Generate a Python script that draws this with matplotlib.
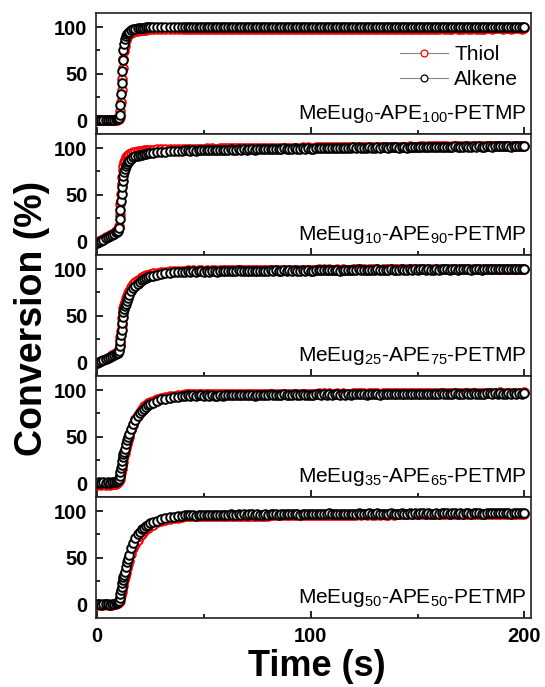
import matplotlib
matplotlib.use("Agg")
import matplotlib.pyplot as plt
from matplotlib.ticker import MultipleLocator

plt.rcParams['font.family'] = ['Liberation Sans', 'DejaVu Sans']
plt.rcParams['mathtext.fontset'] = 'custom'
plt.rcParams['mathtext.rm'] = 'Liberation Sans'
plt.rcParams['mathtext.it'] = 'Liberation Sans:italic'
plt.rcParams['mathtext.bf'] = 'Liberation Sans:bold'

#-----------------------------------------------------#
# data (time in s, conversion in %)

time_s = [0, 1, 2, 3, 4, 5, 6, 7, 8, 9,
          9.5, 10, 10.3, 10.6, 10.9, 11.2, 11.5, 11.8, 12.1, 12.4,
          12.7, 13, 13.5, 14, 14.5, 15, 16, 17, 18, 19,
          20, 21, 22, 23, 24, 25, 26, 28, 30, 32,
          34, 36, 38, 40,
          41.25, 42.5, 43.75, 45, 46.25, 47.5, 48.75, 50, 51.25, 52.5, 53.75, 55, 56.25, 57.5, 58.75, 60,
          61.25, 62.5, 63.75, 65, 66.25, 67.5, 68.75, 70, 71.25, 72.5, 73.75, 75, 76.25, 77.5, 78.75, 80,
          81.25, 82.5, 83.75, 85, 86.25, 87.5, 88.75, 90, 91.25, 92.5, 93.75, 95, 96.25, 97.5, 98.75, 100,
          101.25, 102.5, 103.75, 105, 106.25, 107.5, 108.75, 110, 111.25, 112.5, 113.75, 115, 116.25, 117.5, 118.75, 120,
          121.25, 122.5, 123.75, 125, 126.25, 127.5, 128.75, 130, 131.25, 132.5, 133.75, 135, 136.25, 137.5, 138.75, 140,
          141.25, 142.5, 143.75, 145, 146.25, 147.5, 148.75, 150, 151.25, 152.5, 153.75, 155, 156.25, 157.5, 158.75, 160,
          161.25, 162.5, 163.75, 165, 166.25, 167.5, 168.75, 170, 171.25, 172.5, 173.75, 175, 176.25, 177.5, 178.75, 180,
          181.25, 182.5, 183.75, 185, 186.25, 187.5, 188.75, 190, 191.25, 192.5, 193.75, 195, 196.25, 197.5, 198.75, 200]

panel_labels = [r'MeEug$_{0}$-APE$_{100}$-PETMP',
                r'MeEug$_{10}$-APE$_{90}$-PETMP',
                r'MeEug$_{25}$-APE$_{75}$-PETMP',
                r'MeEug$_{35}$-APE$_{65}$-PETMP',
                r'MeEug$_{50}$-APE$_{50}$-PETMP']

# MeEug0
thiol_0 = [0.0, -0.3, 0.1, -0.2, 0.2, -0.1, 0.0, -0.2, 0.1, 0.3,
           0.5, 1.0, 1.5, 3.5, 10.0, 20.0, 32.0, 44.0, 56.0, 66.0,
           74.0, 80.0, 86.0, 89.0, 91.0, 92.5, 94.0, 95.0, 95.7, 96.2,
           96.6, 96.9, 97.1, 97.3, 97.4, 97.5, 97.6, 97.7, 97.8, 97.8,
           97.9, 97.8, 97.9, 97.8,
           97.9, 98.1, 97.9, 98.0, 97.8, 98.1, 98.0, 97.9, 98.2, 97.9, 98.0, 98.0, 97.9, 98.1, 98.0, 98.1,
           98.0, 98.2, 98.1, 97.9, 98.2, 98.0, 98.1, 98.0, 98.1, 98.2, 97.9, 98.1, 98.1, 98.0, 98.2, 98.0,
           98.3, 98.1, 98.2, 98.0, 98.2, 98.3, 98.1, 98.2, 98.1, 98.3, 98.2, 98.0, 98.3, 98.1, 98.2, 98.1,
           98.1, 98.2, 98.3, 98.1, 98.3, 98.2, 98.4, 98.1, 98.2, 98.3, 98.1, 98.3, 98.2, 98.2, 98.1, 98.3,
           98.3, 98.4, 98.2, 98.3, 98.2, 98.4, 98.3, 98.2, 98.4, 98.2, 98.3, 98.3, 98.2, 98.4, 98.3, 98.3,
           98.2, 98.4, 98.3, 98.2, 98.4, 98.3, 98.4, 98.2, 98.3, 98.4, 98.2, 98.3, 98.3, 98.2, 98.4, 98.3,
           98.5, 98.3, 98.4, 98.3, 98.4, 98.5, 98.3, 98.4, 98.3, 98.5, 98.4, 98.3, 98.5, 98.4, 98.4, 98.3,
           98.4, 98.5, 98.6, 98.4, 98.5, 98.5, 98.6, 98.4, 98.5, 98.6, 98.4, 98.5, 98.5, 98.6, 98.4, 98.5]
alkene_0 = [0.5, 0.0, 0.4, 0.1, 0.5, 0.0, 0.3, 0.1, 0.5, 0.8,
            1.0, 1.5, 2.0, 6.0, 16.0, 28.0, 40.0, 53.0, 65.0, 75.0,
            82.0, 87.0, 90.5, 92.5, 94.0, 95.0, 96.5, 97.5, 98.0, 98.5,
            99.0, 99.1, 99.4, 99.5, 99.6, 99.8, 99.9, 100.0, 100.1, 99.9,
            100.0, 100.1, 99.9, 100.0,
            100.0, 100.4, 99.7, 100.2, 99.5, 100.3, 100.1, 99.8, 100.5, 99.6, 100.2, 100.0, 99.7, 100.4, 99.9, 100.2,
            99.8, 100.3, 100.0, 99.6, 100.5, 99.9, 100.2, 99.7, 100.1, 100.4, 99.5, 100.2, 100.0, 99.8, 100.3, 99.9,
            100.3, 99.9, 100.2, 99.6, 100.0, 100.5, 99.7, 100.1, 99.8, 100.3, 100.0, 99.5, 100.4, 99.9, 100.2, 99.7,
            99.6, 100.1, 100.3, 99.8, 100.2, 99.9, 100.5, 99.7, 100.0, 100.2, 99.6, 100.3, 99.9, 100.1, 99.8, 100.4,
            100.1, 100.3, 99.8, 100.2, 99.6, 100.4, 100.0, 99.7, 100.4, 99.7, 100.1, 100.0, 99.6, 100.3, 99.9, 100.3,
            99.9, 100.2, 100.1, 99.5, 100.4, 99.8, 100.3, 99.8, 100.0, 100.5, 99.6, 100.1, 100.1, 99.7, 100.2, 100.0,
            100.2, 99.8, 100.3, 99.7, 100.1, 100.4, 99.6, 100.2, 99.9, 100.2, 100.1, 99.6, 100.3, 100.0, 100.1, 99.8,
            99.7, 100.2, 100.2, 99.9, 100.3, 99.8, 100.4, 99.8, 100.1, 100.1, 99.7, 100.2, 100.0, 100.2, 99.9, 100.1]

# MeEug10
thiol_10 = [-1.0, 0.0, 1.0, 2.5, 4.0, 5.0, 6.5, 8.0, 9.0, 10.5,
            11.0, 12.0, 16.0, 28.0, 40.0, 51.0, 61.0, 69.0, 76.0, 81.0,
            85.0, 87.5, 90.0, 91.5, 92.5, 93.5, 94.5, 95.3, 96.0, 96.5,
            97.0, 97.3, 97.6, 97.8, 98.0, 98.2, 98.3, 98.5, 98.6, 98.7,
            98.8, 98.9, 99.0, 99.0,
            99.1, 99.3, 99.1, 99.3, 99.2, 99.4, 99.4, 99.3, 99.6, 99.4, 99.6, 99.5, 99.5, 99.8, 99.6, 99.8,
            99.6, 99.9, 99.7, 99.6, 100.0, 99.8, 99.9, 99.8, 100.0, 100.1, 99.8, 100.1, 100.0, 100.0, 100.2, 100.1,
            100.3, 100.1, 100.3, 100.1, 100.3, 100.6, 100.2, 100.4, 100.3, 100.6, 100.5, 100.3, 100.8, 100.5, 100.7, 100.5,
            100.5, 100.8, 100.9, 100.7, 100.9, 100.8, 101.1, 100.8, 100.9, 101.1, 100.9, 101.2, 101.0, 101.1, 101.0, 101.3,
            101.1, 101.3, 101.0, 101.2, 101.0, 101.4, 101.3, 101.2, 101.5, 101.2, 101.4, 101.4, 101.3, 101.6, 101.5, 101.6,
            101.3, 101.5, 101.5, 101.3, 101.7, 101.5, 101.6, 101.5, 101.7, 101.8, 101.5, 101.8, 101.7, 101.7, 101.9, 101.8,
            101.8, 101.7, 101.8, 101.6, 101.8, 102.1, 101.8, 102.0, 101.9, 102.1, 102.0, 101.8, 102.2, 102.0, 102.1, 102.0,
            101.8, 102.1, 102.2, 102.0, 102.2, 102.1, 102.4, 102.1, 102.2, 102.4, 102.2, 102.5, 102.3, 102.4, 102.3, 102.5]
alkene_10 = [-2.0, -1.0, 0.0, 1.5, 3.0, 4.0, 5.5, 7.0, 8.0, 9.5,
             10.0, 11.0, 14.0, 24.0, 34.0, 43.0, 51.0, 58.0, 65.0, 70.0,
             74.0, 77.0, 81.0, 83.0, 85.0, 86.5, 88.5, 90.0, 91.0, 92.0,
             92.5, 93.0, 93.5, 94.0, 94.5, 95.0, 95.2, 95.7, 96.0, 96.3,
             96.6, 96.8, 97.0, 97.2,
             97.4, 97.9, 97.3, 97.8, 97.3, 98.0, 97.8, 97.6, 98.3, 97.5, 98.1, 97.9, 97.7, 98.4, 98.0, 98.3,
             98.1, 98.6, 98.4, 98.0, 99.0, 98.4, 98.7, 98.3, 98.7, 99.0, 98.2, 98.9, 98.7, 98.6, 99.1, 98.8,
             99.3, 98.9, 99.2, 98.8, 99.2, 99.7, 99.0, 99.4, 99.2, 99.7, 99.4, 99.0, 99.9, 99.4, 99.7, 99.4,
             99.3, 99.9, 100.1, 99.6, 100.1, 99.8, 100.4, 99.8, 100.0, 100.3, 99.8, 100.5, 100.1, 100.3, 100.1, 100.7,
             100.3, 100.8, 100.1, 100.6, 100.0, 100.8, 100.6, 100.4, 101.1, 100.3, 100.9, 100.7, 100.5, 101.2, 100.8, 101.1,
             100.6, 101.1, 100.9, 100.5, 101.4, 100.9, 101.2, 100.8, 101.2, 101.5, 100.7, 101.4, 101.2, 101.1, 101.6, 101.3,
             101.5, 101.1, 101.4, 100.9, 101.4, 101.9, 101.2, 101.6, 101.3, 101.8, 101.5, 101.0, 101.9, 101.5, 101.8, 101.5,
             101.2, 101.8, 102.0, 101.5, 102.0, 101.7, 102.4, 101.7, 101.9, 102.2, 101.6, 102.3, 101.9, 102.1, 101.9, 102.4]

# MeEug25
thiol_25 = [-0.5, 0.5, 1.5, 2.5, 3.5, 5.0, 6.0, 7.5, 8.5, 9.5,
            10.0, 11.0, 14.0, 20.0, 27.0, 34.0, 40.0, 47.0, 53.0, 58.0,
            62.0, 65.0, 68.5, 71.5, 74.5, 77.0, 80.5, 83.5, 86.0, 88.0,
            89.8, 91.2, 92.4, 93.4, 94.2, 95.0, 95.5, 96.3, 97.0, 97.4,
            97.7, 97.9, 98.1, 98.2,
            98.5, 98.7, 98.5, 98.7, 98.4, 98.7, 98.6, 98.5, 98.8, 98.5, 98.7, 98.6, 98.5, 98.8, 98.6, 98.7,
            98.8, 99.0, 98.9, 98.7, 99.1, 98.9, 99.0, 98.8, 98.9, 99.1, 98.7, 99.0, 98.9, 98.8, 99.0, 98.9,
            99.3, 99.1, 99.3, 99.0, 99.2, 99.4, 99.1, 99.2, 99.1, 99.3, 99.2, 99.0, 99.4, 99.1, 99.3, 99.1,
            99.3, 99.5, 99.6, 99.4, 99.6, 99.5, 99.7, 99.4, 99.5, 99.6, 99.3, 99.6, 99.5, 99.5, 99.4, 99.7,
            99.7, 99.9, 99.6, 99.8, 99.5, 99.8, 99.7, 99.6, 99.9, 99.5, 99.8, 99.7, 99.6, 99.9, 99.7, 99.8,
            99.8, 100.0, 99.9, 99.7, 100.1, 99.9, 100.0, 99.8, 99.9, 100.1, 99.7, 100.0, 99.9, 99.8, 100.0, 99.9,
            100.2, 100.0, 100.2, 99.9, 100.1, 100.3, 100.0, 100.1, 100.0, 100.2, 100.1, 99.9, 100.3, 100.0, 100.2, 100.0,
            100.2, 100.3, 100.4, 100.2, 100.4, 100.3, 100.5, 100.2, 100.3, 100.4, 100.2, 100.4, 100.3, 100.3, 100.2, 100.5]
alkene_25 = [-1.0, 0.0, 1.0, 2.0, 3.0, 4.5, 5.5, 7.0, 8.0, 9.0,
             9.5, 10.0, 12.0, 17.0, 23.0, 29.0, 35.0, 42.0, 49.0, 54.0,
             57.0, 60.0, 63.0, 66.0, 69.0, 72.0, 76.0, 79.5, 82.0, 84.5,
             86.5, 88.0, 89.5, 90.5, 91.5, 92.5, 93.0, 94.0, 95.0, 95.5,
             96.0, 96.5, 96.8, 97.0,
             97.4, 97.9, 97.2, 97.7, 97.1, 97.9, 97.7, 97.4, 98.1, 97.2, 97.8, 97.6, 97.3, 98.0, 97.5, 97.8,
             97.9, 98.4, 98.1, 97.7, 98.6, 98.0, 98.3, 97.8, 98.2, 98.5, 97.6, 98.3, 98.1, 97.9, 98.4, 98.0,
             98.8, 98.4, 98.7, 98.1, 98.5, 99.0, 98.2, 98.6, 98.3, 98.8, 98.5, 98.0, 98.9, 98.4, 98.7, 98.2,
             98.5, 99.0, 99.2, 98.7, 99.1, 98.8, 99.4, 98.6, 98.9, 99.1, 98.5, 99.2, 98.8, 99.0, 98.7, 99.3,
             99.2, 99.6, 98.9, 99.4, 98.7, 99.5, 99.3, 99.0, 99.7, 98.8, 99.4, 99.2, 98.9, 99.6, 99.1, 99.4,
             99.3, 99.8, 99.5, 99.1, 100.0, 99.4, 99.7, 99.2, 99.6, 99.9, 99.0, 99.7, 99.5, 99.3, 99.8, 99.4,
             100.1, 99.7, 100.0, 99.4, 99.8, 100.3, 99.5, 99.9, 99.6, 100.1, 99.8, 99.3, 100.2, 99.7, 100.0, 99.5,
             99.6, 100.1, 100.3, 99.8, 100.2, 99.9, 100.5, 99.7, 100.0, 100.2, 99.6, 100.3, 99.9, 100.1, 99.8, 100.4]

# MeEug35
thiol_35 = [-1.5, -1.0, -1.5, -1.0, -1.5, -1.0, -1.5, -1.0, -1.0, -0.5,
            0.0, 1.0, 2.5, 4.5, 7.5, 11.0, 15.0, 19.0, 23.0, 27.0,
            30.0, 33.0, 38.0, 42.5, 46.5, 50.0, 57.0, 63.0, 68.5, 73.0,
            77.0, 80.0, 82.5, 84.5, 86.0, 87.5, 88.5, 90.5, 91.8, 92.8,
            93.5, 94.0, 94.5, 95.0,
            95.5, 95.7, 95.5, 95.7, 95.4, 95.7, 95.6, 95.5, 95.8, 95.5, 95.7, 95.6, 95.5, 95.8, 95.6, 95.7,
            95.8, 96.0, 95.9, 95.7, 96.1, 95.9, 96.0, 95.8, 95.9, 96.1, 95.7, 96.0, 95.9, 95.8, 96.0, 95.9,
            96.3, 96.1, 96.3, 96.0, 96.2, 96.4, 96.1, 96.2, 96.1, 96.3, 96.2, 96.0, 96.4, 96.1, 96.3, 96.1,
            96.2, 96.4, 96.5, 96.3, 96.5, 96.4, 96.6, 96.3, 96.4, 96.5, 96.2, 96.5, 96.4, 96.4, 96.3, 96.6,
            96.6, 96.8, 96.5, 96.7, 96.4, 96.7, 96.6, 96.5, 96.8, 96.4, 96.7, 96.6, 96.5, 96.8, 96.6, 96.7,
            96.7, 96.9, 96.8, 96.6, 97.0, 96.8, 96.9, 96.7, 96.8, 97.0, 96.6, 96.9, 96.8, 96.7, 96.9, 96.8,
            97.1, 96.9, 97.1, 96.8, 97.0, 97.2, 96.9, 97.0, 96.9, 97.1, 97.0, 96.8, 97.2, 96.9, 97.1, 96.9,
            97.2, 97.3, 97.4, 97.2, 97.4, 97.3, 97.5, 97.2, 97.3, 97.4, 97.2, 97.4, 97.3, 97.3, 97.2, 97.5]
alkene_35 = [0.5, 1.0, 0.5, 1.0, 0.5, 1.0, 0.5, 1.0, 1.0, 1.5,
             2.0, 3.0, 5.0, 8.0, 12.0, 16.0, 20.0, 24.0, 28.0, 31.0,
             34.0, 37.0, 42.0, 46.5, 50.0, 53.0, 58.5, 63.5, 68.0, 72.0,
             75.0, 78.0, 80.0, 82.0, 84.0, 85.5, 86.5, 88.5, 90.0, 91.0,
             92.0, 92.5, 93.0, 93.5,
             94.0, 94.5, 93.8, 94.3, 93.7, 94.5, 94.3, 94.0, 94.7, 93.8, 94.4, 94.2, 93.9, 94.6, 94.1, 94.4,
             94.5, 95.0, 94.7, 94.3, 95.2, 94.6, 94.9, 94.4, 94.8, 95.1, 94.2, 94.9, 94.7, 94.5, 95.0, 94.6,
             95.4, 95.0, 95.3, 94.7, 95.1, 95.6, 94.8, 95.2, 94.9, 95.4, 95.1, 94.6, 95.5, 95.0, 95.3, 94.8,
             95.0, 95.5, 95.7, 95.2, 95.6, 95.3, 95.9, 95.1, 95.4, 95.6, 95.0, 95.7, 95.3, 95.5, 95.2, 95.8,
             95.7, 96.1, 95.4, 95.9, 95.2, 96.0, 95.8, 95.5, 96.2, 95.3, 95.9, 95.7, 95.4, 96.1, 95.6, 95.9,
             95.7, 96.2, 95.9, 95.5, 96.4, 95.8, 96.1, 95.6, 96.0, 96.3, 95.4, 96.1, 95.9, 95.7, 96.2, 95.8,
             96.5, 96.1, 96.4, 95.8, 96.2, 96.7, 95.9, 96.3, 96.0, 96.5, 96.2, 95.7, 96.6, 96.1, 96.4, 95.9,
             96.0, 96.5, 96.7, 96.2, 96.6, 96.3, 96.9, 96.1, 96.4, 96.6, 96.0, 96.7, 96.3, 96.5, 96.2, 96.8]

# MeEug50
thiol_50 = [-0.5, 0.0, -1.0, -0.5, 0.0, -0.5, -1.0, -0.5, 0.0, 0.5,
            1.0, 1.5, 2.5, 4.0, 7.0, 10.0, 13.0, 17.0, 20.0, 23.0,
            26.0, 29.0, 34.0, 39.0, 43.0, 47.0, 54.0, 60.0, 65.0, 69.5,
            73.0, 76.0, 78.5, 80.5, 82.5, 84.0, 85.5, 88.0, 89.5, 90.8,
            91.8, 92.5, 93.0, 93.5,
            94.5, 94.7, 94.5, 94.7, 94.4, 94.7, 94.6, 94.5, 94.8, 94.5, 94.7, 94.6, 94.5, 94.8, 94.6, 94.7,
            95.1, 95.3, 95.2, 95.0, 95.4, 95.2, 95.3, 95.1, 95.2, 95.4, 95.0, 95.3, 95.2, 95.1, 95.3, 95.2,
            95.8, 95.6, 95.8, 95.5, 95.7, 95.9, 95.6, 95.7, 95.6, 95.8, 95.7, 95.5, 95.9, 95.6, 95.8, 95.6,
            95.9, 96.1, 96.2, 96.0, 96.2, 96.1, 96.3, 96.0, 96.1, 96.2, 95.9, 96.2, 96.1, 96.1, 96.0, 96.3,
            96.4, 96.6, 96.3, 96.5, 96.2, 96.5, 96.4, 96.3, 96.6, 96.2, 96.5, 96.4, 96.3, 96.6, 96.4, 96.5,
            96.6, 96.8, 96.7, 96.5, 96.9, 96.7, 96.8, 96.6, 96.7, 96.9, 96.5, 96.8, 96.7, 96.6, 96.8, 96.7,
            97.0, 96.8, 97.0, 96.7, 96.9, 97.1, 96.8, 96.9, 96.8, 97.0, 96.9, 96.7, 97.1, 96.8, 97.0, 96.8,
            97.0, 97.1, 97.2, 97.0, 97.2, 97.1, 97.3, 97.0, 97.1, 97.2, 97.0, 97.2, 97.1, 97.1, 97.0, 97.3]
alkene_50 = [0.0, 0.5, -0.5, 0.0, 0.5, 0.0, -0.5, 0.0, 0.5, 1.0,
             1.5, 2.5, 4.0, 7.0, 11.0, 15.0, 19.0, 23.0, 26.0, 29.0,
             32.0, 35.0, 40.0, 45.0, 49.0, 53.0, 60.0, 66.0, 71.0, 75.0,
             78.0, 80.5, 82.5, 84.0, 85.5, 87.0, 88.0, 90.0, 91.5, 92.5,
             93.5, 94.0, 94.5, 95.0,
             95.7, 96.2, 95.5, 96.0, 95.4, 96.2, 96.0, 95.7, 96.4, 95.5, 96.1, 95.9, 95.6, 96.3, 95.8, 96.1,
             96.2, 96.7, 96.4, 96.0, 96.9, 96.3, 96.6, 96.1, 96.5, 96.8, 95.9, 96.6, 96.4, 96.2, 96.7, 96.3,
             97.1, 96.7, 97.0, 96.4, 96.8, 97.3, 96.5, 96.9, 96.6, 97.1, 96.8, 96.3, 97.2, 96.7, 97.0, 96.5,
             96.7, 97.2, 97.4, 96.9, 97.3, 97.0, 97.6, 96.8, 97.1, 97.3, 96.7, 97.4, 97.0, 97.2, 96.9, 97.5,
             97.3, 97.7, 97.0, 97.5, 96.8, 97.6, 97.4, 97.1, 97.8, 96.9, 97.5, 97.3, 97.0, 97.7, 97.2, 97.5,
             97.3, 97.8, 97.5, 97.1, 98.0, 97.4, 97.7, 97.2, 97.6, 97.9, 97.0, 97.7, 97.5, 97.3, 97.8, 97.4,
             98.0, 97.6, 97.9, 97.3, 97.7, 98.2, 97.4, 97.8, 97.5, 98.0, 97.7, 97.2, 98.1, 97.6, 97.9, 97.4,
             97.5, 98.0, 98.2, 97.7, 98.1, 97.8, 98.4, 97.6, 97.9, 98.1, 97.5, 98.2, 97.8, 98.0, 97.7, 98.3]

thiol_series = [thiol_0, thiol_10, thiol_25, thiol_35, thiol_50]
alkene_series = [alkene_0, alkene_10, alkene_25, alkene_35, alkene_50]

#-----------------------------------------------------#

fig, axes = plt.subplots(5, 1, sharex=True, figsize=(5.45, 6.87), dpi=100)
fig.subplots_adjust(left=0.176, right=0.974, top=0.981, bottom=0.100, hspace=0)

for i, ax in enumerate(axes):
    ax.plot(time_s, thiol_series[i], '-o', color='#888888', lw=0.8,
            ms=6.2, mfc='white', mec='red', mew=1.4, label='Thiol')
    ax.plot(time_s, alkene_series[i], '-o', color='#888888', lw=0.8,
            ms=6.2, mfc='white', mec='black', mew=1.4, label='Alkene')
    ax.set_xlim(-0.5, 203)
    ax.set_ylim(-15, 115)
    ax.set_yticks([0, 50, 100])
    ax.yaxis.set_minor_locator(MultipleLocator(25))
    ax.xaxis.set_major_locator(MultipleLocator(100))
    ax.xaxis.set_minor_locator(MultipleLocator(50))
    ax.tick_params(which='both', direction='in', top=False, right=False,
                   width=1.2, labelsize=14.5, pad=6)
    ax.tick_params(which='major', length=5)
    ax.tick_params(which='minor', length=3)
    for lab in ax.get_yticklabels() + ax.get_xticklabels():
        lab.set_fontweight('bold')
    for sp in ax.spines.values():
        sp.set_linewidth(1.2)
        sp.set_color('#222222')
    ax.text(0.99, 0.165, panel_labels[i], transform=ax.transAxes,
            ha='right', va='center', fontsize=15)

leg = axes[0].legend(loc='upper right', bbox_to_anchor=(1.0, 0.84), frameon=False,
                     fontsize=15, handlelength=2.3, handletextpad=0.3,
                     labelspacing=0.3, markerscale=0.8, borderaxespad=0.2)
for h in leg.legend_handles:
    h.set_markeredgewidth(0.9)

fig.text(0.059, 0.537, 'Conversion (%)', rotation=90, ha='center', va='center',
         fontsize=27, fontweight='bold')
fig.text(0.582, 0.030, 'Time (s)', ha='center', va='center',
         fontsize=26, fontweight='bold')

fig.savefig('out.png', dpi=100)
